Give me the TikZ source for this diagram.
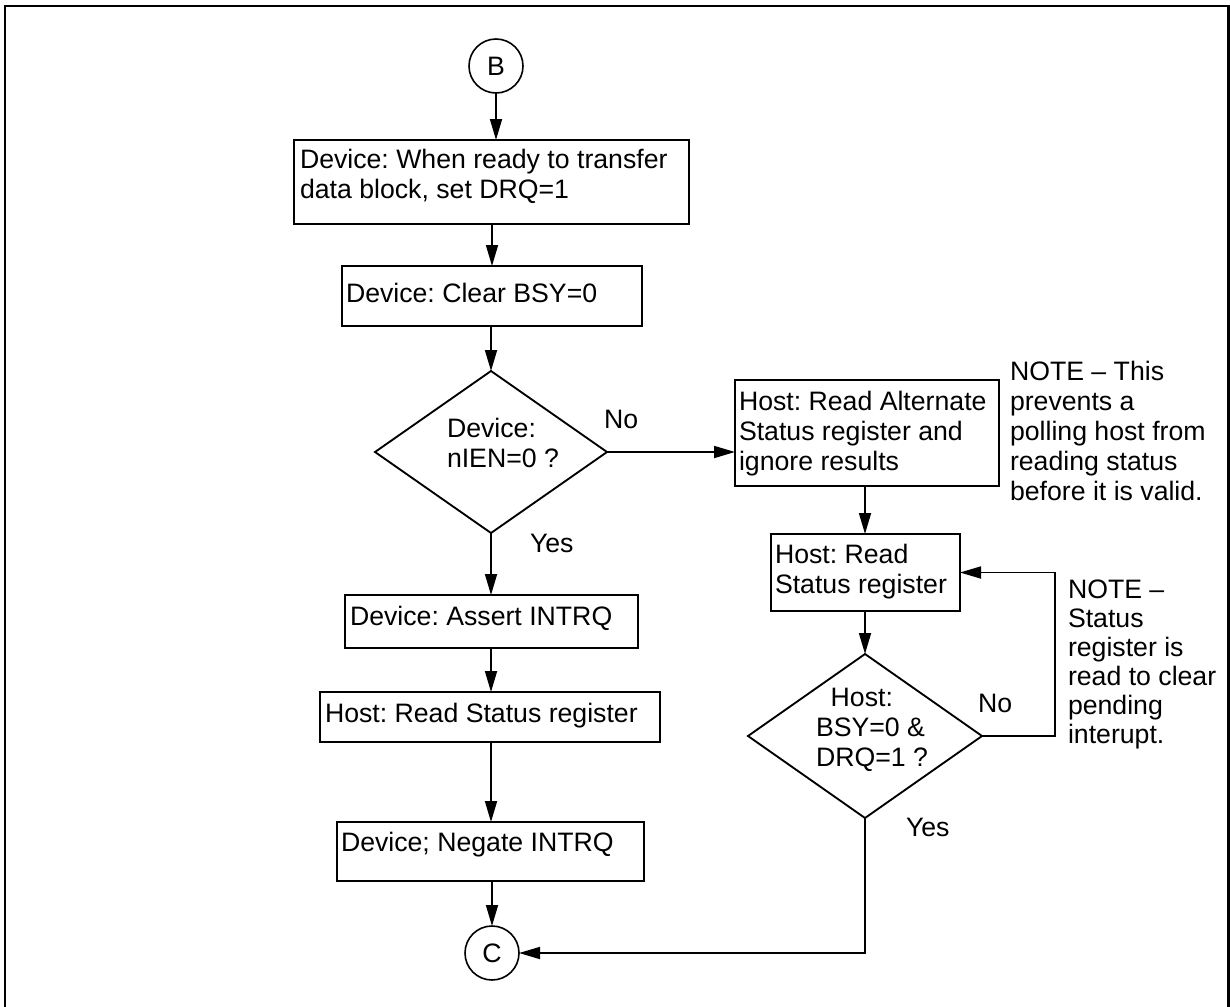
\documentclass[tikz,border=0pt]{standalone}
\usepackage{fontspec}
\setmainfont{Liberation Sans}
\usetikzlibrary{shapes.geometric,arrows.meta}
\frenchspacing
\tikzset{
  pbox/.style n args={3}{draw, rectangle, line width=#3, minimum width=#1*0.75pt, minimum height=#2*0.75pt, inner sep=0pt, outer sep=0pt},
  dia/.style n args={2}{draw, diamond, line width=1.4pt, minimum width=#1*0.75pt, minimum height=#2*0.75pt, inner sep=0pt, outer sep=0pt},
  conn/.style={circle, draw, line width=1.2pt, minimum size=54*0.75pt, inner sep=0pt, outer sep=0pt, font=\fontsize{20}{22.5}\selectfont},
  txt/.style={font=\fontsize{20}{22.5}\selectfont, align=left, anchor=north west, inner sep=0pt, outer sep=0pt},
  notetxt/.style={font=\fontsize{20}{#1}\selectfont, align=left, anchor=north west, inner sep=0pt, outer sep=0pt},
  lbl/.style={font=\fontsize{20}{22.5}\selectfont, anchor=base west, inner sep=0pt, outer sep=0pt},
  arr/.style={line width=1.3pt, -{Triangle[length=15.75pt,width=9pt]}},
  frame/.style={line width=1.9pt},
}
\begin{document}
\begin{tikzpicture}[x=0.75pt,y=-0.75pt]
\useasboundingbox (0,0) rectangle (1230,1006);
\draw[frame] (5,1012) -- (5,6) -- (1228.5,6) -- (1228.5,1012);

% left column
\node[conn] (B) at (496,66) {B};
\node[pbox={395}{84}{2pt}] (b1) at (491.5,182) {};
\node[pbox={300}{60}{1pt}] (b2) at (492,296) {};
\node[dia={232}{162}] (d1) at (491,452) {};
\node[pbox={293}{53}{1.1pt}] (as) at (491.5,621.5) {};
\node[pbox={340}{50}{1.1pt}] (hrs) at (490,717) {};
\node[pbox={307}{59}{1.1pt}] (neg) at (490.5,851.5) {};
\node[conn] (C) at (492,953) {C};

% right column
\node[pbox={264}{106}{2pt}] (ha) at (867,433) {};
\node[pbox={189}{77}{1.1pt}] (hr) at (865.5,572.5) {};
\node[dia={234}{164}] (d2) at (865,736) {};

% texts in boxes
\node[txt] (t1) at ([shift={(6,7)}]b1.north west) {\strut Device: When ready to transfer\\data block, set DRQ=1};
\node[txt] (t2) at ([shift={(4,15)}]b2.north west) {\strut Device: Clear BSY=0};
\node[txt] (t3) at ([shift={(5,9)}]as.north west) {\strut Device: Assert INTRQ};
\node[txt] (t4) at ([shift={(5,9)}]hrs.north west) {\strut Host: Read Status register};
\node[txt] (t5) at ([shift={(4,8)}]neg.north west) {\strut Device; Negate INTRQ};
\node[txt] (t6) at ([shift={(4,9)}]ha.north west) {\strut Host: Read Alternate\\Status register and\\ignore results};
\node[txt] (t7) at ([shift={(4,8)}]hr.north west) {\strut Host: Read\\Status register};

% texts in diamonds
\node[txt] (t8) at (447,416) {\strut Device:\\nIEN=0 ?};
\node[txt] (t9) at (816,685) {\strut\hspace*{11pt}Host:\\BSY=0 \&\\DRQ=1 ?};

% branch labels
\node[lbl] (no1) at (604,428) {No};
\node[lbl] (yes1) at (530,552) {Yes};
\node[lbl] (no2) at (978,712) {No};
\node[lbl] (yes2) at (906,836) {Yes};

% notes
\node[notetxt=22.5pt] (n1) at (1010,359) {\strut NOTE – This\\prevents a\\polling host from\\reading status\\before it is valid.};
\node[notetxt=21.75pt] (n2) at (1068,578) {\strut NOTE –\\Status\\register is\\read to clear\\pending\\interupt.};

% connectors
\draw[arr] (B.south) -- (B.south |- b1.north);
\draw[arr] (b1.south -| b2.north) -- (b2.north);
\draw[arr] (b2.south -| d1.north) -- (d1.north);
\draw[arr] (d1.south) -- (d1.south |- as.north);
\draw[arr] (as.south -| d1.south) -- (d1.south |- hrs.north);
\draw[arr] (hrs.south -| d1.south) -- (d1.south |- neg.north);
\draw[arr] (neg.south -| C.north) -- (C.north);
\draw[arr] (d1.east) -- (d1.east -| ha.west);
\draw[arr] (ha.south -| d2.north) -- (d2.north |- hr.north);
\draw[arr] (hr.south -| d2.north) -- (d2.north);
\coordinate (lp) at (1055,736);
\draw[arr] (d2.east) -- (lp) |- (hr.east);
\draw[arr] (d2.south) |- (C.east);
\end{tikzpicture}
\end{document}
